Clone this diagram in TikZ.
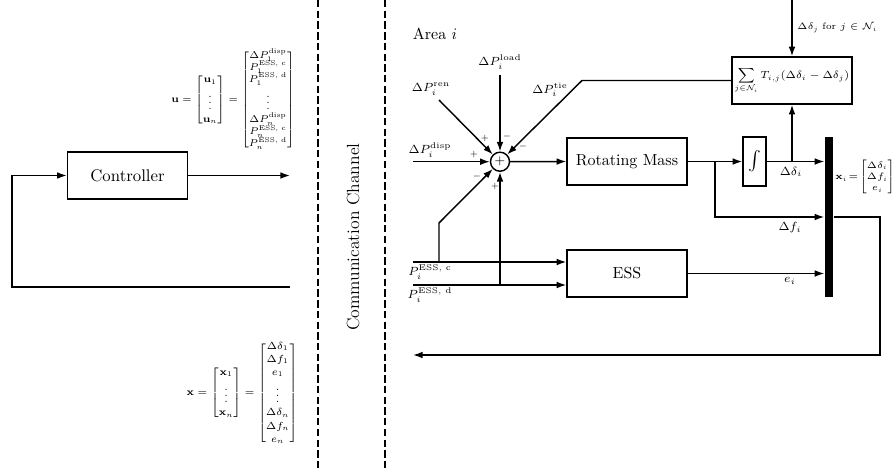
\RequirePackage{fix-cm}
\documentclass[tikz,border=0pt]{standalone}
\usepackage{amsmath}
\usetikzlibrary{arrows.meta}
\begin{document}
\begin{tikzpicture}[x=0.625pt,y=-0.625pt,
  line width=0.9pt,
  >={Latex[length=6pt,width=4.2pt]},
  blk/.style={draw, line width=0.9pt, minimum width=75pt, minimum height=29.4pt, inner sep=0pt},
  lbl/.style={font=\fontsize{7.4}{8.8}\selectfont, inner sep=1pt},
  sgn/.style={font=\fontsize{5}{6}\selectfont, inner sep=0pt},
  chan/.style={line width=1.4pt, dash pattern=on 4.6pt off 2.1pt}]
\useasboundingbox (0,0) rectangle (896,468);

% communication channel
\coordinate (c1t) at (318,0); \coordinate (c1b) at (318,468);
\coordinate (c2t) at (385,0); \coordinate (c2b) at (385,468);
\draw[chan] (c1t) -- (c1b);
\draw[chan] (c2t) -- (c2b);
\node[rotate=90, font=\fontsize{11}{13}\selectfont] (chtxt) at (353,237) {Communication Channel};

% left part
\node[blk, font=\fontsize{10.5}{12.5}\selectfont] (ctrl) at (127.5,175.5) {Controller};
\coordinate (uout) at (290,175.5);
\coordinate (xin) at (290,287);
\coordinate (fbl) at (12,287);
\draw[->] (ctrl.east) -- (uout);
\draw[->] (xin) -- (fbl) |- (ctrl.west);

\node[font=\fontsize{6.2}{7.6}\selectfont, inner sep=0pt] (ueq) at (233,100) {%
  $\mathbf{u}=\begin{bmatrix}\mathbf{u}_1\\ \vdots\\ \mathbf{u}_n\end{bmatrix}=
  \renewcommand{\arraystretch}{1.0}%
  \begin{bmatrix}
  \smash{\Delta P_1^{\text{disp}}}\\
  \smash{P_1^{\text{ESS, c}}}\\
  \smash{P_1^{\text{ESS, d}}}\\
  \vdots\\
  \smash{\Delta P_n^{\text{disp}}}\\
  \smash{P_n^{\text{ESS, c}}}\\
  \smash{P_n^{\text{ESS, d}}}
  \end{bmatrix}$};

\node[font=\fontsize{6.4}{8.2}\selectfont, inner sep=0pt] (xeq) at (242,393) {%
  $\mathbf{x}=\begin{bmatrix}\mathbf{x}_1\\ \vdots\\ \mathbf{x}_n\end{bmatrix}=
  \begin{bmatrix}
  \Delta\delta_1\\ \Delta f_1\\ e_1\\ \vdots\\ \Delta\delta_n\\ \Delta f_n\\ e_n
  \end{bmatrix}$};

% right part
\node (area) at (435,34) {Area $i$};

\node[circle, draw, minimum size=11.9pt, inner sep=0pt] (sum) at (500,161.7) {\footnotesize$+$};
\node[blk] (sumblk) at (792,80.5) {\fontsize{6.5}{7.8}\selectfont$\displaystyle\sum_{j\in\mathcal{N}_i} T_{i,j}(\Delta\delta_i-\Delta\delta_j)$};
\node[blk] (rm) at (627,161.5) {Rotating Mass};
\node[blk] (ess) at (627,273.5) {ESS};
\node[draw, minimum width=14.4pt, minimum height=30.6pt, inner sep=0pt] (int) at (754.5,161.5) {\large$\int$};
\node[fill, minimum width=5pt, minimum height=100pt, inner sep=0pt] (bar) at (829,217) {};

% inputs to summing junction
\coordinate (dispin) at (413,161.7);
\coordinate (loadin) at (500,75);
\coordinate (renin) at (439,100);
\coordinate (tiek) at (582,80.5);
\coordinate (cin) at (413,262);
\coordinate (din) at (413,285);
\coordinate (cbr) at (439,262);
\coordinate (cbk) at (439,223);
\coordinate (dbr) at (500,285);

\draw[->] (dispin) -- (sum.west);
\draw[->] (loadin) -- (sum.north);
\draw[->] (renin) -- (sum.135);
\draw[->] (sumblk.west) -- (tiek) -- (sum.45);
\draw[->] (cin) -- (cin -| ess.west);
\draw[->] (din) -- (din -| ess.west);
\draw[->] (cbr) -- (cbk) -- (sum.225);
\draw[->] (dbr) -- (sum.south);

\node[lbl] (lload) at (500,62) {$\Delta P_i^{\text{load}}$};
\node[lbl] (lren) at (431,89) {$\Delta P_i^{\text{ren}}$};
\node[lbl] (ltie) at (550,90) {$\Delta P_i^{\text{tie}}$};
\node[lbl] (ldisp) at (430,150) {$\Delta P_i^{\text{disp}}$};
\node[lbl] (lc) at (430,272) {$P_i^{\text{ESS, c}}$};
\node[lbl] (ld) at (430,295) {$P_i^{\text{ESS, d}}$};

\node[sgn] (s1) at (485,138) {$+$};
\node[sgn] (s2) at (507,136) {$-$};
\node[sgn] (s3) at (523,146) {$-$};
\node[sgn] (s4) at (474,154) {$+$};
\node[sgn] (s5) at (477,176) {$-$};
\node[sgn] (s6) at (495,186) {$+$};

% plant chain
\coordinate (br1) at (715,161.5);
\coordinate (br2) at (792,161.5);
\coordinate (djin) at (792,0);
\coordinate (fbr) at (880,217);
\coordinate (fbout) at (413,355);

\draw[->] (sum.east) -- (rm.west);
\draw[->] (rm.east) -- (int.west);
\draw[->] (int.east) -- (int.east -| bar.west);
\draw[->] (br1) |- (bar.west);
\draw[->] (br2) -- (sumblk.south);
\draw[->] (djin) -- (sumblk.north);
\draw[->] (ess.east) -- (ess.east -| bar.west);
\draw[->] (bar.east) -- (fbr) |- (fbout);

\node[font=\fontsize{5.8}{7}\selectfont, anchor=west, inner sep=1pt] (ldj) at (795,28) {$\Delta\delta_j$ for $j\in\mathcal{N}_i$};
\node[lbl] (ldd) at (791,172) {$\Delta\delta_i$};
\node[lbl] (ldf) at (790,228) {$\Delta f_i$};
\node[lbl] (le) at (790,281) {$e_i$};
\node[font=\fontsize{5.8}{7}\selectfont, inner sep=0pt, anchor=east] (xieq) at (895.5,177) {$\mathbf{x}_i\!=\!\begin{bmatrix}\Delta\delta_i\\ \Delta f_i\\ e_i\end{bmatrix}$};
\end{tikzpicture}
\end{document}
